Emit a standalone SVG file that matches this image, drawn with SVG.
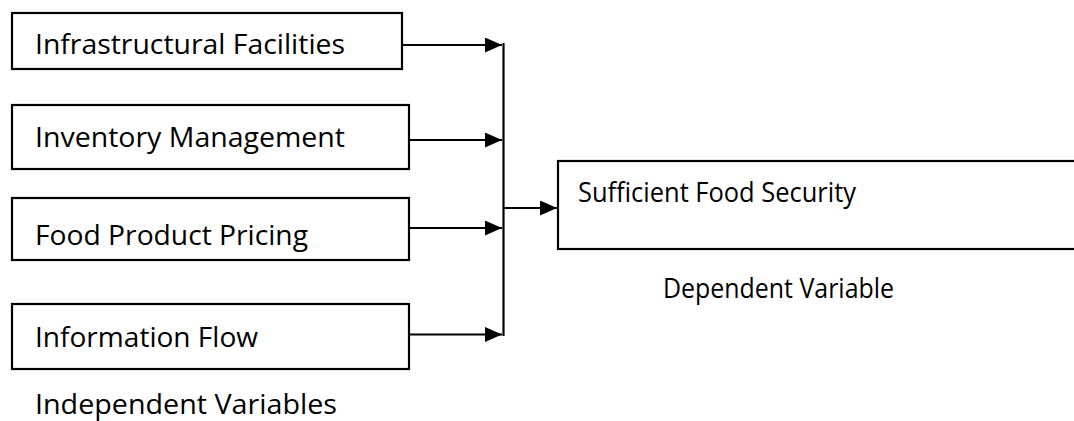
<svg xmlns="http://www.w3.org/2000/svg" width="1074" height="421" viewBox="0 0 1074 421">
<style>
.box{fill:#fff;stroke:#000;stroke-width:2.2}
.t{font-family:"Open Sans","Noto Sans","Liberation Sans",sans-serif;font-size:28px;fill:#000}
.c{stroke:#000;stroke-width:2.2;fill:none}
</style>
<defs>
<marker id="ah" markerWidth="17" markerHeight="15" refX="17" refY="7.5" orient="auto" markerUnits="userSpaceOnUse">
<path d="M0,0 L17,7.5 L0,15 z" fill="#000"/>
</marker>
</defs>
<rect width="1074" height="421" fill="#fff"/>
<g id="n1"><rect class="box" x="12" y="13" width="390" height="56"/><text class="t" x="35" y="54" textLength="310" lengthAdjust="spacingAndGlyphs">Infrastructural Facilities</text></g>
<g id="n2"><rect class="box" x="12" y="105" width="397" height="64"/><text class="t" x="35" y="147" textLength="310" lengthAdjust="spacingAndGlyphs">Inventory Management</text></g>
<g id="n3"><rect class="box" x="12" y="198" width="397" height="62"/><text class="t" x="35" y="245" textLength="273" lengthAdjust="spacingAndGlyphs">Food Product Pricing</text></g>
<g id="n4"><rect class="box" x="12" y="304" width="397" height="65"/><text class="t" x="35" y="347" textLength="223" lengthAdjust="spacingAndGlyphs">Information Flow</text></g>
<g id="target"><rect class="box" x="558" y="161" width="530" height="88"/><text class="t" x="578" y="202" textLength="278" lengthAdjust="spacingAndGlyphs">Sufficient Food Security</text></g>
<g id="labels">
<text class="t" x="35" y="414" textLength="302" lengthAdjust="spacingAndGlyphs">Independent Variables</text>
<text class="t" x="663" y="298" textLength="231" lengthAdjust="spacingAndGlyphs">Dependent Variable</text>
</g>
<g id="connectors">
<line class="c" x1="403" y1="45" x2="502" y2="45" marker-end="url(#ah)"/>
<line class="c" x1="410" y1="140" x2="502" y2="140" marker-end="url(#ah)"/>
<line class="c" x1="410" y1="228" x2="502" y2="228" marker-end="url(#ah)"/>
<line class="c" x1="410" y1="334.5" x2="502" y2="334.5" marker-end="url(#ah)"/>
<line class="c" x1="503.5" y1="43" x2="503.5" y2="336"/>
<line class="c" x1="503.5" y1="208" x2="557" y2="208" marker-end="url(#ah)"/>
</g>
</svg>
